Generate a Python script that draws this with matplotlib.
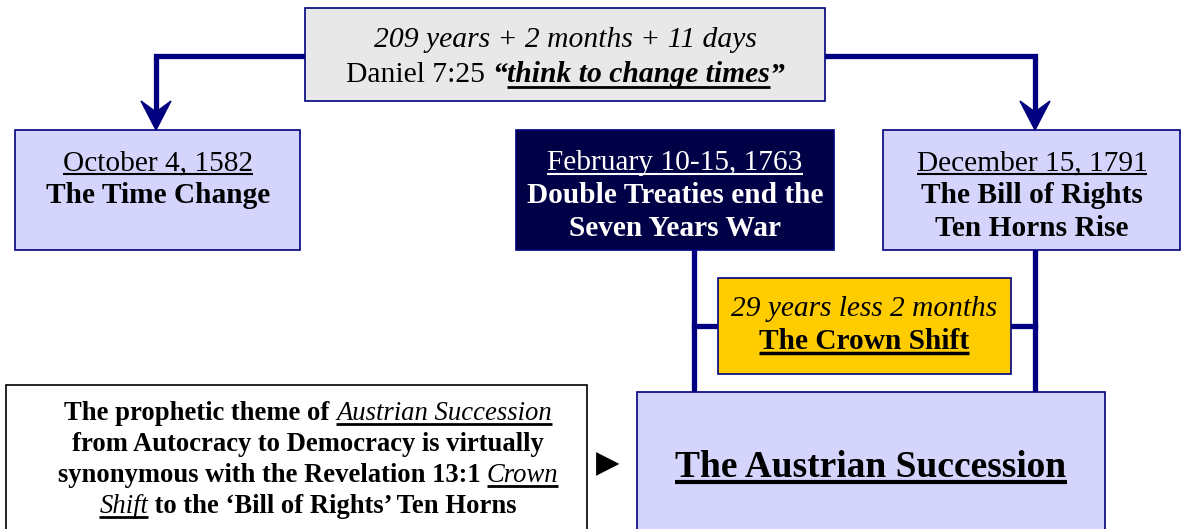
import matplotlib.pyplot as plt
from matplotlib.patches import Rectangle, Polygon

# text content of the diagram, one list of (text, weight, style, underline) per line
top_lines = [
    [("209 years + 2 months + 11 days", "normal", "italic", False)],
    [("Daniel 7:25 ", "normal", "normal", False), ("\u201c", "bold", "italic", False),
     ("think to change times", "bold", "italic", True), ("\u201d", "bold", "italic", False)],
]
left_lines = [
    [("October 4, 1582", "normal", "normal", True)],
    [("The Time Change", "bold", "normal", False)],
]
mid_lines = [
    [("February 10-15, 1763", "normal", "normal", True)],
    [("Double Treaties end the", "bold", "normal", False)],
    [("Seven Years War", "bold", "normal", False)],
]
right_lines = [
    [("December 15, 1791", "normal", "normal", True)],
    [("The Bill of Rights", "bold", "normal", False)],
    [("Ten Horns Rise", "bold", "normal", False)],
]
shift_lines = [
    [("29 years less 2 months", "normal", "italic", False)],
    [("The Crown Shift", "bold", "normal", True)],
]
main_lines = [
    [("The Austrian Succession", "bold", "normal", True)],
]
note_lines = [
    [("The prophetic theme of ", "bold", "normal", False), ("Austrian Succession", "normal", "italic", True)],
    [("from Autocracy to Democracy is virtually", "bold", "normal", False)],
    [("synonymous with the Revelation 13:1 ", "bold", "normal", False), ("Crown", "normal", "italic", True)],
    [("Shift", "normal", "italic", True), (" to the \u2018Bill of Rights\u2019 Ten Horns", "bold", "normal", False)],
]

navy = "#000080"
lilac = "#d4d4fc"

plt.rcParams["font.family"] = ["Liberation Serif", "DejaVu Serif"]

fig = plt.figure(figsize=(11.85, 5.29), dpi=100)
ax = fig.add_axes([0, 0, 1, 1])
ax.set_xlim(0, 1185)
ax.set_ylim(529, 0)
ax.axis("off")
renderer = fig.canvas.get_renderer()


def measure(s, **kw):
    # width in pixels, keeps leading/trailing spaces
    t = ax.text(0, 0, "|" + s + "|", **kw)
    w1 = t.get_window_extent(renderer).width
    t.remove()
    t = ax.text(0, 0, "||", **kw)
    w2 = t.get_window_extent(renderer).width
    t.remove()
    return w1 - w2


def draw_lines(lines, cx, y0, dy, size, color="black", ul_lw=1.5):
    for i, segs in enumerate(lines):
        y = y0 + i * dy
        widths = [measure(s, fontsize=size, fontweight=w, fontstyle=st) for s, w, st, u in segs]
        x = cx - sum(widths) / 2
        for (s, w, st, u), wd in zip(segs, widths):
            ax.text(x, y, s, fontsize=size, fontweight=w, fontstyle=st,
                    color=color, ha="left", va="baseline", zorder=5)
            if u:
                ax.plot([x, x + wd], [y + size * 0.2, y + size * 0.2], color=color,
                        lw=ul_lw, solid_capstyle="butt", zorder=5)
            x += wd


def box(x0, y0, x1, y1, fc, ec=navy, lw=1.2):
    ax.add_patch(Rectangle((x0, y0), x1 - x0, y1 - y0, facecolor=fc,
                           edgecolor=ec, lw=lw, zorder=3))


def arrow_down(x, y_tip):
    ax.add_patch(Polygon([(x, y_tip), (x - 15, y_tip - 29), (x, y_tip - 18),
                          (x + 15, y_tip - 29)], closed=True, facecolor=navy,
                         edgecolor=navy, lw=1, zorder=4))


# connectors
lw_conn = 3.8
ax.plot([305, 156, 156], [56, 56, 112], color=navy, lw=lw_conn, zorder=2, solid_joinstyle="miter")
ax.plot([825, 1035, 1035], [56, 56, 112], color=navy, lw=lw_conn, zorder=2, solid_joinstyle="miter")
arrow_down(156, 130)
arrow_down(1035, 130)
ax.plot([694, 694], [250, 392], color=navy, lw=lw_conn, zorder=2)
ax.plot([1035, 1035], [250, 392], color=navy, lw=lw_conn, zorder=2)
ax.plot([694, 718], [326, 326], color=navy, lw=lw_conn, zorder=2)
ax.plot([1011, 1035], [326, 326], color=navy, lw=lw_conn, zorder=2)

# boxes
box(305, 8, 825, 101, "#e8e8e8")
box(15, 130, 300, 250, lilac)
box(516, 130, 834, 250, "#000046")
box(883, 130, 1180, 250, lilac)
box(718, 278, 1011, 374, "#ffcc00")
box(637, 392, 1105, 535, lilac)
box(6, 385, 587, 535, "white", ec="black", lw=1.2)

# text
draw_lines(top_lines, 565, 47, 35.5, 21.3, ul_lw=2)
draw_lines(left_lines, 158, 170, 33, 21.2)
draw_lines(mid_lines, 675, 170, 33, 21.2, color="white")
draw_lines(right_lines, 1032, 170, 33, 21.2)
draw_lines(shift_lines, 864, 316, 33, 21.2, ul_lw=2.5)
draw_lines(main_lines, 871, 477, 0, 27, ul_lw=3)
draw_lines(note_lines, 308, 420, 31, 19.2, ul_lw=2)

ax.text(608, 464, "\u25b6", fontsize=22, ha="center", va="center",
        family=["DejaVu Sans"], color="black")

fig.savefig("out.png", dpi=100)
